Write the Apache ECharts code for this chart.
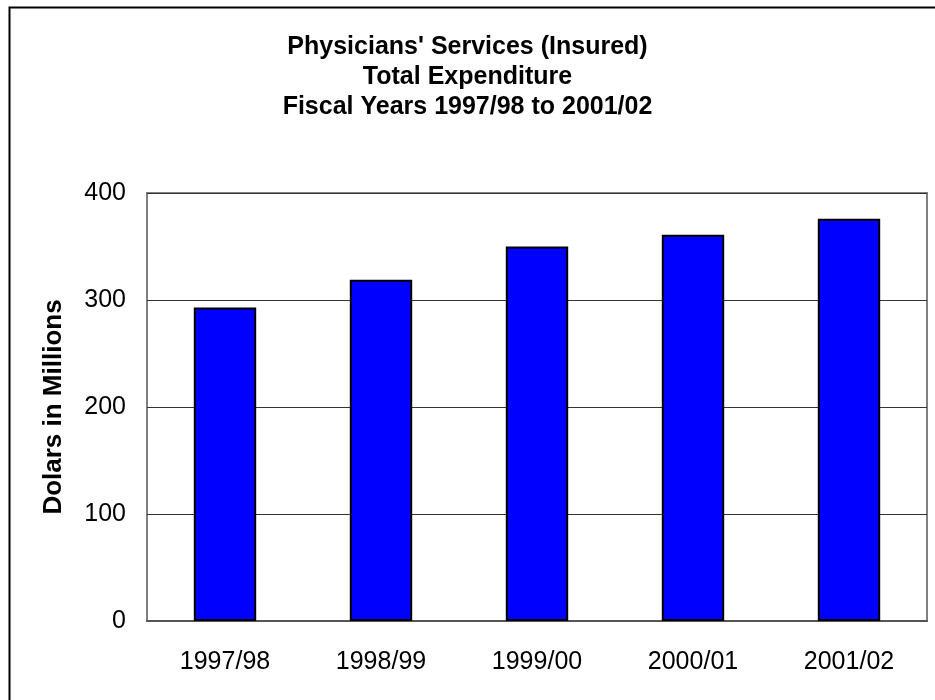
<!DOCTYPE html>
<html>
<head>
<meta charset="utf-8">
<script src="https://cdn.jsdelivr.net/npm/echarts@6/dist/echarts.min.js"></script>
<style>
  html, body { margin: 0; padding: 0; background: #fff; }
  #main { width: 935px; height: 700px; }
</style>
</head>
<body>
<div id="main"></div>
<script>
var years = ['1997/98', '1998/99', '1999/00', '2000/01', '2001/02'];
var expenditure = [293, 319, 350, 361, 376];
var yTicks = [0, 100, 200, 300, 400];

var chart = echarts.init(document.getElementById('main'));
var font = 'Liberation Sans, Arial, sans-serif';

var option = {
  backgroundColor: '#fff',
  animation: false,
  title: {
    text: "Physicians' Services (Insured)\nTotal Expenditure\nFiscal Years 1997/98 to 2001/02",
    left: 'center',
    top: 27,
    textStyle: {
      fontFamily: font,
      fontSize: 25,
      fontWeight: 'bold',
      color: '#000',
      lineHeight: 30
    }
  },
  graphic: [{
    type: 'rect',
    left: 7,
    top: 5,
    shape: { width: 940, height: 710 },
    style: { fill: 'none', stroke: '#000', lineWidth: 2 },
    silent: true
  }],
  grid: {
    left: 147,
    top: 193,
    right: 8,
    bottom: 79,
    show: true,
    borderColor: '#808080',
    borderWidth: 2
  },
  xAxis: {
    type: 'category',
    data: years,
    axisLine: { show: true, lineStyle: { color: '#555', width: 2 } },
    axisTick: { show: false },
    axisLabel: {
      fontFamily: font,
      fontSize: 25,
      color: '#000',
      margin: 29
    }
  },
  yAxis: {
    type: 'value',
    min: yTicks[0],
    max: yTicks[yTicks.length - 1],
    interval: 100,
    name: 'Dolars in Millions',
    nameLocation: 'middle',
    nameRotate: 90,
    nameGap: 80,
    nameTextStyle: {
      fontFamily: font,
      fontSize: 26,
      fontWeight: 'bold',
      color: '#000'
    },
    axisLine: { show: false },
    axisTick: { show: false },
    axisLabel: {
      fontFamily: font,
      fontSize: 25,
      color: '#000',
      margin: 21
    },
    splitLine: { show: true, lineStyle: { color: '#333', width: 1 } }
  },
  series: [{
    type: 'bar',
    data: expenditure,
    barWidth: '40%',
    itemStyle: {
      color: '#0000ff',
      borderColor: '#000',
      borderWidth: 2
    }
  }]
};
chart.setOption(option);
</script>
</body>
</html>
